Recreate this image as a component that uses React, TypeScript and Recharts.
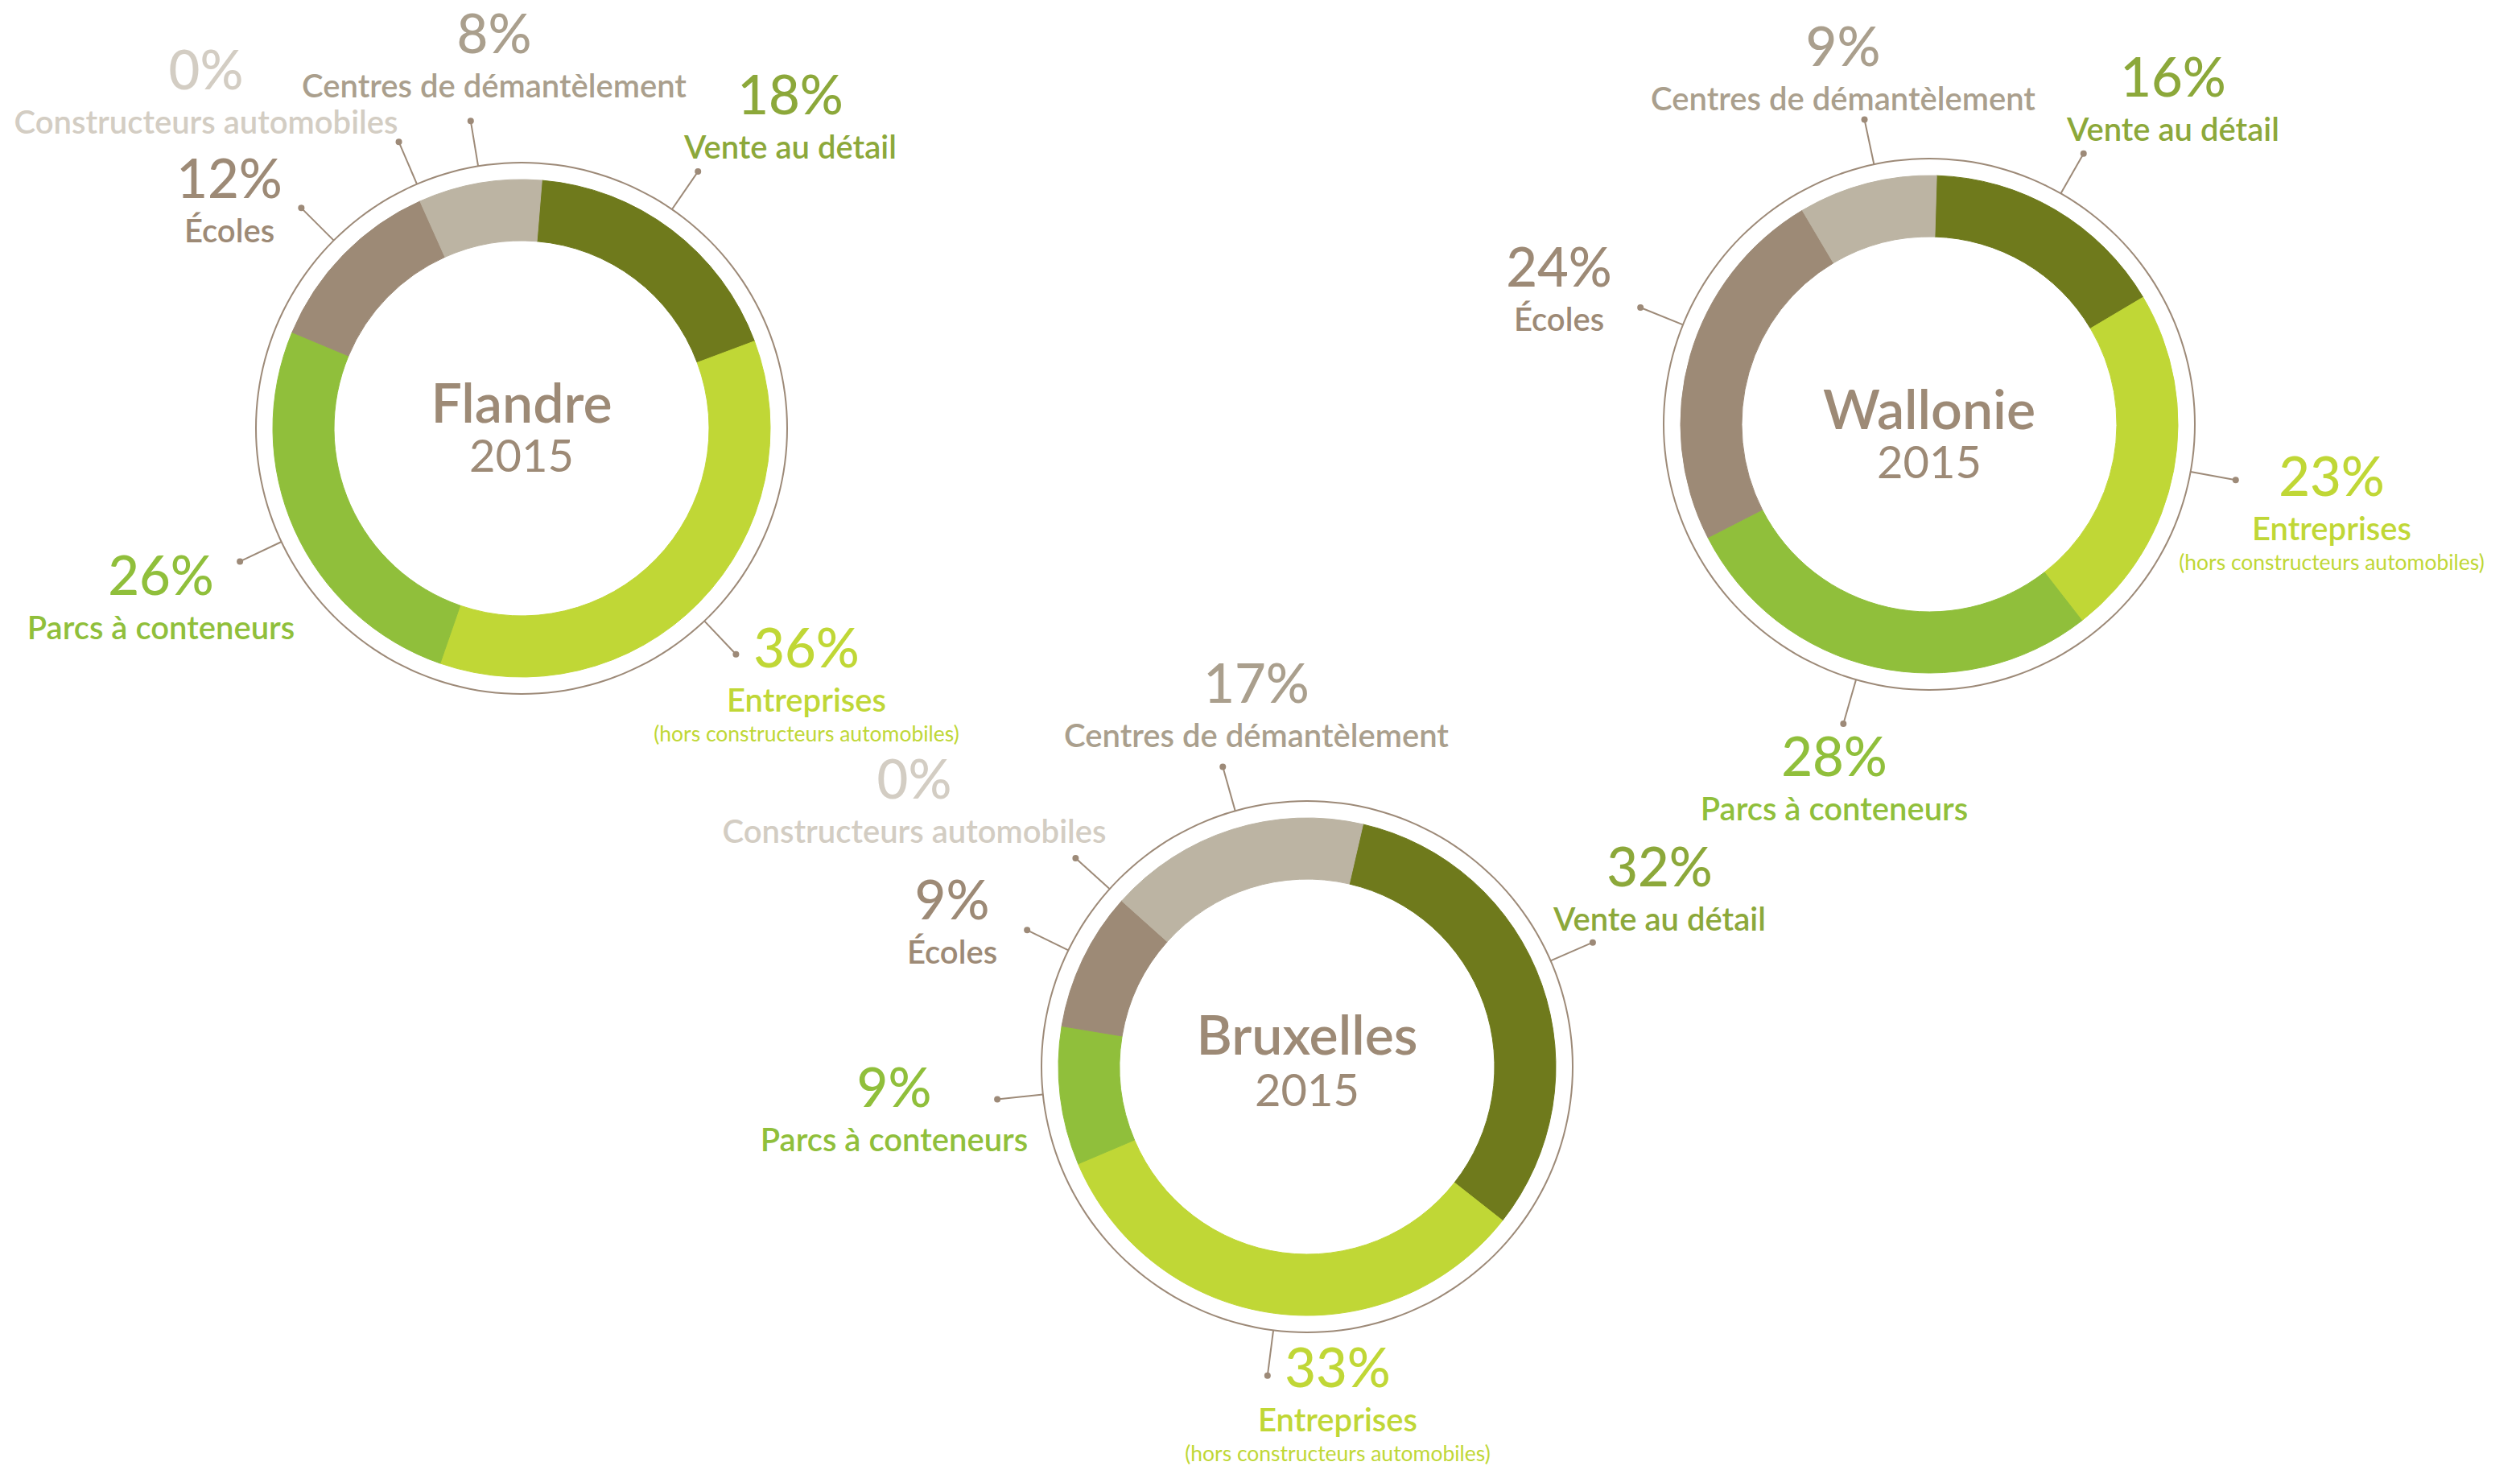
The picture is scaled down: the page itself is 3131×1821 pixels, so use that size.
import React from "react";
import { PieChart, Pie, Cell } from "recharts";

const W = 3131;
const H = 1821;
const FONT = "Lato, 'Open Sans', sans-serif";

// ---- data ----
const categories = [
  "Vente au détail",
  "Entreprises",
  "Parcs à conteneurs",
  "Écoles",
  "Constructeurs automobiles",
  "Centres de démantèlement",
];
const subtitles = ["", "(hors constructeurs automobiles)", "", "", "", ""];
const regionNames = ["Flandre", "Wallonie", "Bruxelles"];
const regionYears = ["2015", "2015", "2015"];
const flandreValues = [18, 36, 26, 12, 0, 8];
const wallonieValues = [16, 23, 28, 24, null, 9]; // no car makers entry shown
const bruxellesValues = [32, 33, 9, 9, 0, 17];
const regionValues = [flandreValues, wallonieValues, bruxellesValues];

// ---- styles ----
const sliceColors = ["#6f7a1c", "#c0d736", "#90bf3b", "#9d8a76", "#d3cdc3", "#bcb4a3"];
const textColors = ["#8ca83a", "#c0d736", "#90bf3b", "#9d8a76", "#d3cdc3", "#aa9f8d"];
const RING = "#9d8a78";
const INNER = 233;
const OUTER = 309;
const RING_R = 330;
const DOT_R = 387;

// ---- layout (px, angles clockwise from 12 o'clock) ----
const centers = [[648, 532], [2397, 527], [1624, 1325]];
const startAngles = [4.7, 1.7, 13];
const leaderAngles = [
  [34.5, 136.5, 244.7, 315, 336.8, 350.6],
  [29.7, 100.3, 196, 292, null, 348],
  [66.5, 187.3, 264, 296, 312, 344.3],
];
const labelOffsets = [
  [[334, -390], [354, 297], [-448, 207], [-363, -286], [-392, -421], [-34, -466]],
  [[303, -407], [500, 89], [-118, 437], [-460, -171], null, [-107, -445]],
  [[438, -224], [38, 398], [-513, 50], [-441, -183], [-488, -333], [-63, -452]],
];
const titleOffsets = [[-7, 54], [6, 67], [-15, 49]];

const polar = (cx: number, cy: number, r: number, deg: number) => {
  const a = (deg * Math.PI) / 180;
  return [cx + r * Math.sin(a), cy - r * Math.cos(a)];
};

function buildData(values: (number | null)[]) {
  return values
    .map((v, i) => ({ name: categories[i], value: v, cat: i }))
    .filter((d) => d.value !== null) as { name: string; value: number; cat: number }[];
}

function sliceLabel(region: number, data: { name: string; value: number; cat: number }[]) {
  return (props: any) => {
    const { cx, cy, index } = props;
    const d = data[index];
    if (!d) return null;
    const ang = leaderAngles[region][d.cat];
    const off = labelOffsets[region][d.cat];
    if (ang == null || !off) return null;
    const [x1, y1] = polar(cx, cy, RING_R, ang);
    const [x2, y2] = polar(cx, cy, DOT_R, ang);
    const tx = cx + off[0];
    const ty = cy + off[1];
    const color = textColors[d.cat];
    return (
      <g>
        <line x1={x1} y1={y1} x2={x2} y2={y2} stroke={RING} strokeWidth={2} />
        <circle cx={x2} cy={y2} r={4} fill={RING} />
        <text x={tx} y={ty} textAnchor="middle" fill={color} fontFamily={FONT} fontSize={67} fontWeight={500}>
          {d.value}%
        </text>
        <text x={tx} y={ty + 55} textAnchor="middle" fill={color} fontFamily={FONT} fontSize={40} fontWeight={600}>
          {d.name}
        </text>
        {subtitles[d.cat] && (
          <text x={tx} y={ty + 92} textAnchor="middle" fill={color} fontFamily={FONT} fontSize={26.5} fontWeight={400}>
            {subtitles[d.cat]}
          </text>
        )}
      </g>
    );
  };
}

function titleLabel(region: number) {
  return (props: any) => {
    const { cx, cy } = props;
    const [t1, t2] = titleOffsets[region];
    return (
      <g>
        <text x={cx} y={cy + t1} textAnchor="middle" fill="#9d8a76" fontFamily={FONT} fontSize={68} fontWeight={600}>
          {regionNames[region]}
        </text>
        <text x={cx} y={cy + t2} textAnchor="middle" fill="#9d8a76" fontFamily={FONT} fontSize={56} fontWeight={400}>
          {regionYears[region]}
        </text>
      </g>
    );
  };
}

export default function App() {
  return (
    <div style={{ position: "absolute", left: 0, top: 0, width: W, height: H, background: "#fff" }}>
      <PieChart width={W} height={H} margin={{ top: 0, right: 0, bottom: 0, left: 0 }}>
        {regionNames.map((rn, r) => {
          const data = buildData(regionValues[r]);
          const [cx, cy] = centers[r];
          const start = 90 - startAngles[r];
          return [
            <Pie
              key={rn + "-ring"}
              data={[{ name: rn, value: 1 }]}
              dataKey="value"
              cx={cx}
              cy={cy}
              innerRadius={RING_R - 1}
              outerRadius={RING_R + 1}
              fill={RING}
              stroke="none"
              label={titleLabel(r)}
              labelLine={false}
              isAnimationActive={false}
            />,
            <Pie
              key={rn + "-donut"}
              data={data}
              dataKey="value"
              nameKey="name"
              cx={cx}
              cy={cy}
              startAngle={start}
              endAngle={start - 360}
              innerRadius={INNER}
              outerRadius={OUTER}
              label={sliceLabel(r, data)}
              labelLine={false}
              isAnimationActive={false}
            >
              {data.map((d) => (
                <Cell key={d.cat} fill={sliceColors[d.cat]} stroke={sliceColors[d.cat]} strokeWidth={1} />
              ))}
            </Pie>,
          ];
        })}
      </PieChart>
    </div>
  );
}
